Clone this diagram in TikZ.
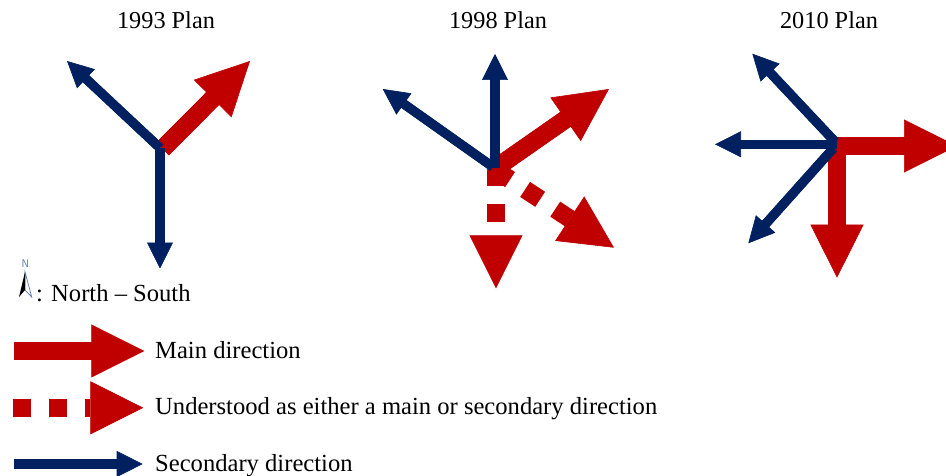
\documentclass[tikz,border=0pt]{standalone}
\usepackage{fontspec}
\setmainfont{Liberation Serif}
\usetikzlibrary{arrows.meta}
\definecolor{mainred}{RGB}{192,0,0}
\definecolor{secblue}{RGB}{0,32,96}
\definecolor{iconblue}{RGB}{90,120,170}
\tikzset{
  mainarrow/.style={draw=mainred,line width=18pt,preaction={draw=mainred,line width=18pt,arrows=-,shorten >=50pt},-{Triangle[length=53pt,width=53pt,fill=mainred,line width=0.6pt]}},
  maybearrow/.style={draw=mainred,line width=18pt,dash pattern=on 18pt off 18pt,-{Triangle[length=53pt,width=53pt,fill=mainred,line width=0.6pt]}},
  secarrow/.style={draw=secblue,line width=9.3pt,preaction={draw=secblue,line width=9.3pt,arrows=-,shorten >=24pt},-{Triangle[length=26pt,width=26pt,fill=secblue,line width=0.6pt]}},
  label/.style={font=\fontsize{24.6}{24.6}\selectfont,inner sep=0pt,anchor=base west},
  plantitle/.style={font=\fontsize{24.3}{24.3}\selectfont,inner sep=0pt,anchor=base},
}
\begin{document}
\begin{tikzpicture}[x=1pt,y=-1pt]
\useasboundingbox (0,0) rectangle (946,476);
% titles
\node[plantitle] (t1) at (166,29) {1993 Plan};
\node[plantitle] (t2) at (498,29) {1998 Plan};
\node[plantitle] (t3) at (829,29) {2010 Plan};
% 1993
\coordinate (aR) at (162.5,149);
\coordinate (aRt) at (250,61);
\coordinate (aW) at (160,148);
\coordinate (aWt) at (67,61);
\coordinate (aS) at (160,148);
\coordinate (aSt) at (160,268.5);
\draw[mainarrow] (aR) -- (aRt);
\draw[secarrow] (aW) -- (aWt);
\draw[secarrow] (aS) -- (aSt);
% 1998
\coordinate (bR) at (501.5,164);
\coordinate (bRt) at (609,89);
\coordinate (bD) at (495,169.7);
\coordinate (bDt) at (614,247.7);
\coordinate (bS) at (496,168.3);
\coordinate (bSt) at (496,288.3);
\coordinate (bN) at (495,168);
\coordinate (bNt) at (495,54);
\coordinate (bW) at (493,167);
\coordinate (bWt) at (382.7,89);
\draw[mainarrow] (bR) -- (bRt);
\draw[maybearrow] (bD) -- (bDt);
\draw[maybearrow] (bS) -- (bSt);
\draw[secarrow] (bN) -- (bNt);
\draw[secarrow] (bW) -- (bWt);
% 2010
\coordinate (cE) at (836.7,146);
\coordinate (cEt) at (957,146);
\coordinate (cS) at (837,146);
\coordinate (cSt) at (837,277.7);
\coordinate (cW) at (836.7,144.3);
\coordinate (cWt) at (715,144.3);
\coordinate (cN) at (835,141.7);
\coordinate (cNt) at (752.3,53.7);
\coordinate (cSW) at (833.3,148.3);
\coordinate (cSWt) at (748.3,243.3);
\draw[mainarrow] (cS) -- (cSt);
\draw[mainarrow] (cE) -- (cEt);
\draw[secarrow] (cW) -- (cWt);
\draw[secarrow] (cN) -- (cNt);
\draw[secarrow] (cSW) -- (cSWt);
% north icon
\node[font=\fontsize{11}{11}\selectfont\sffamily,text=iconblue,inner sep=0pt] (nn) at (25.5,264) {N};
\draw[iconblue,line width=0.7pt,fill=white] (25,272) -- (25,290) -- (31.7,297) -- cycle;
\fill[black] (25,272) -- (25,290) -- (19,297) -- cycle;
\node[label] (ns) at (36,301) {: North – South};
% legend
\coordinate (lm) at (14,351);
\coordinate (lmt) at (144.3,351);
\draw[mainarrow] (lm) -- (lmt);
\node[label] (lmn) at (155,358) {Main direction};
\coordinate (ld) at (12.7,407.8);
\coordinate (ldt) at (143.3,407.8);
\draw[maybearrow] (ld) -- (ldt);
\node[label] (ldn) at (155,414) {Understood as either a main or secondary direction};
\coordinate (ls) at (14,464);
\coordinate (lst) at (142.7,464);
\draw[secarrow] (ls) -- (lst);
\node[label] (lsn) at (155,471) {Secondary direction};
\end{tikzpicture}
\end{document}
